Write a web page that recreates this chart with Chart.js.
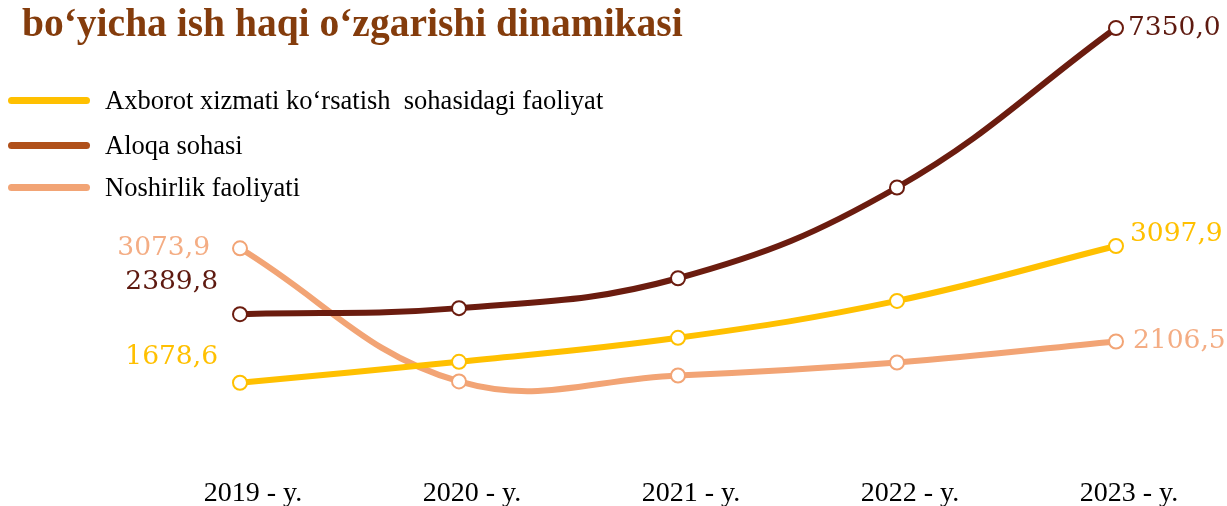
<!DOCTYPE html>
<html>
<head>
<meta charset="utf-8">
<script src="https://cdn.jsdelivr.net/npm/chart.js@4"></script>
<style>
  body { margin: 0; background: #fff; }
  #wrap { position: relative; width: 1227px; height: 506px; overflow: hidden; }
  #salaryChart { display: block; }
  #title {
    position: absolute; left: 22px; top: 3px;
    font: bold 39.5px "Liberation Serif", serif; line-height: 40px;
    color: #843c0c; white-space: nowrap;
  }
  #legend { position: absolute; left: 8px; top: 0; }
  .item { position: absolute; left: 0; height: 30px; white-space: nowrap; }
  .swatch { position: absolute; left: 0; top: 12px; width: 82px; height: 7px; border-radius: 3.5px; }
  .label { position: absolute; left: 97px; top: 0; font: 26.5px "Liberation Serif", serif; line-height: 30px; color: #000; white-space: pre; }
</style>
</head>
<body>
<div id="wrap">
  <canvas id="salaryChart" width="1227" height="506"></canvas>
  <div id="title">bo‘yicha ish haqi o‘zgarishi dinamikasi</div>
  <div id="legend"></div>
</div>
<script>
// chart data
const years = ['2019 - y.', '2020 - y.', '2021 - y.', '2022 - y.', '2023 - y.'];
const axborot = [1678.6, 1896, 2145, 2528, 3097.9];
const aloqa = [2389.8, 2494, 3012, 4585, 7350.0];
const noshirlik = [3073.9, 1692, 1754, 1889, 2106.5];
const seriesNames = ['Axborot xizmati ko‘rsatish  sohasidagi faoliyat', 'Aloqa sohasi', 'Noshirlik faoliyati'];

// styles
const lineColors = ['#ffc000', '#6b1c0f', '#f2a475'];
const legendColors = ['#ffc000', '#b0501a', '#f2a475'];
const labelColors = ['#ffc000', '#5e1a10', '#f4ad84'];
const legendTops = [85, 130, 172];

const legendBox = document.getElementById('legend');
seriesNames.forEach((name, i) => {
    const item = document.createElement('div');
    item.className = 'item';
    item.style.top = legendTops[i] + 'px';
    item.innerHTML = '<div class="swatch" style="background:' + legendColors[i] + '"></div>' +
        '<div class="label"></div>';
    item.querySelector('.label').textContent = name;
    legendBox.appendChild(item);
});

function fmt(v) {
    return v.toFixed(1).replace('.', ',');
}

// value labels at first and last points: [dx, dy, align]
const endLabels = {
    0: { first: [-22, -26, 'right'], last: [14, -12, 'left'] },
    1: { first: [-22, -32, 'right'], last: [12, 0, 'left'] },
    2: { first: [-30, 0, 'right'], last: [17, 0, 'left'] }
};

const endLabelPlugin = {
    id: 'endLabels',
    afterDatasetsDraw(chart) {
        const ctx = chart.ctx;
        ctx.save();
        ctx.font = '26.5px "DejaVu Serif", serif';
        ctx.textBaseline = 'middle';
        chart.data.datasets.forEach((ds, i) => {
            const meta = chart.getDatasetMeta(i);
            const cfg = endLabels[i];
            const pts = [[meta.data[0], ds.data[0], cfg.first], [meta.data[meta.data.length - 1], ds.data[ds.data.length - 1], cfg.last]];
            pts.forEach(([pt, val, off]) => {
                ctx.fillStyle = labelColors[i];
                ctx.textAlign = off[2];
                ctx.fillText(fmt(val), pt.x + off[0], pt.y + off[1]);
            });
        });
        ctx.restore();
    }
};

function makeSet(label, data, i, axis) {
    return {
        label: label,
        data: data,
        yAxisID: axis,
        borderColor: lineColors[i],
        borderWidth: 6,
        pointRadius: 7,
        pointBorderWidth: 2,
        pointBackgroundColor: '#fff',
        pointBorderColor: lineColors[i],
        tension: 0.4,
        fill: false,
        clip: false
    };
}

new Chart(document.getElementById('salaryChart').getContext('2d'), {
    type: 'line',
    data: {
        labels: years,
        datasets: [
            makeSet(seriesNames[0], axborot, 0, 'y'),
            makeSet(seriesNames[1], aloqa, 1, 'y2'),
            makeSet(seriesNames[2], noshirlik, 2, 'y')
        ]
    },
    options: {
        responsive: false,
        animation: false,
        layout: { padding: { left: 240, right: 111, top: 28, bottom: 0 } },
        plugins: {
            legend: { display: false },
            tooltip: { enabled: false }
        },
        scales: {
            x: {
                grid: { display: false, drawTicks: false },
                border: { display: false },
                afterFit(scale) { scale.height = 54; },
                ticks: {
                    padding: 28,
                    labelOffset: 13,
                    color: '#000',
                    font: { family: '"Liberation Serif", serif', size: 28, lineHeight: 1 }
                }
            },
            y: { display: false, min: 960, max: 5360 },
            y2: { display: false, min: 0, max: 7350 }
        }
    },
    plugins: [endLabelPlugin]
});
</script>
</body>
</html>
